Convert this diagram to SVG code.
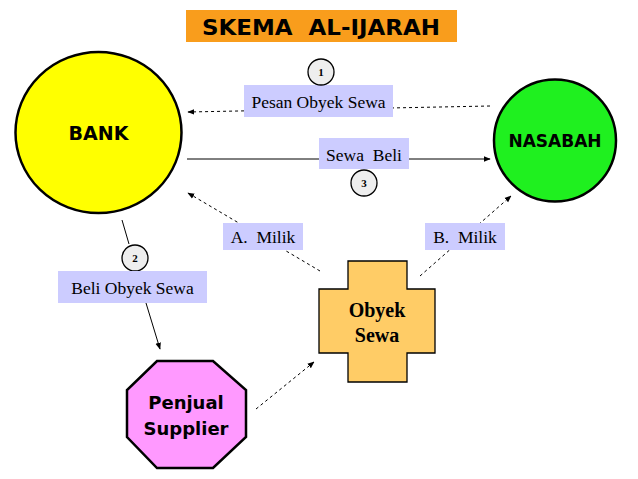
<svg xmlns="http://www.w3.org/2000/svg" width="638" height="479" viewBox="0 0 638 479">
<style>
.sans{font-family:"DejaVu Sans","Liberation Sans",sans-serif;font-weight:bold;fill:#000}
.serif{font-family:"Liberation Serif","Times New Roman",serif;fill:#000}
.lbl{fill:#ccccff}
.num{fill:#eeeeee;stroke:#000;stroke-width:1.3}
.numt{font-family:"Liberation Serif",serif;font-weight:bold;font-size:11px;text-anchor:middle}
.dash{stroke:#000;stroke-width:1;stroke-dasharray:3,3;fill:none}
.solid{stroke:#000;stroke-width:1;fill:none}
</style>
<defs>
<marker id="ah" viewBox="0 0 10 10" refX="9" refY="5" markerWidth="7" markerHeight="7" orient="auto" markerUnits="userSpaceOnUse">
<path d="M0,1 L10,5 L0,9 z" fill="#000"/>
</marker>
</defs>
<rect width="638" height="479" fill="#fff"/>
<g id="title">
<rect x="186" y="10" width="271" height="32" fill="#f99d1c"/>
<text class="sans" x="321" y="35" font-size="22" text-anchor="middle" textLength="238" lengthAdjust="spacingAndGlyphs" xml:space="preserve">SKEMA  AL-IJARAH</text>
</g>
<g id="connectors">
<line class="dash" x1="490" y1="106" x2="188" y2="112" marker-end="url(#ah)"/>
<line class="solid" x1="187" y1="159" x2="490" y2="159" marker-end="url(#ah)"/>
<line class="solid" x1="122" y1="220" x2="129" y2="244"/>
<line class="solid" x1="146" y1="303" x2="160" y2="349" marker-end="url(#ah)"/>
<line class="dash" x1="320" y1="271" x2="188" y2="193" marker-end="url(#ah)"/>
<line class="dash" x1="420" y1="276" x2="511" y2="196" marker-end="url(#ah)"/>
<line class="dash" x1="256" y1="409" x2="314" y2="362" marker-end="url(#ah)"/>
</g>
<g id="label-pesan">
<rect class="lbl" x="244" y="85" width="149" height="32"/>
<text class="serif" x="318.5" y="108" font-size="17.5" text-anchor="middle">Pesan Obyek Sewa</text>
</g>
<g id="num-1">
<circle class="num" cx="321" cy="72" r="13"/>
<text class="numt" x="321" y="76">1</text>
</g>
<g id="label-sewabeli">
<rect class="lbl" x="319" y="138" width="90" height="31"/>
<text class="serif" x="364" y="161" font-size="17.5" text-anchor="middle" xml:space="preserve">Sewa  Beli</text>
</g>
<g id="num-3">
<circle class="num" cx="364" cy="183" r="13"/>
<text class="numt" x="364" y="187">3</text>
</g>
<g id="num-2">
<circle class="num" cx="135" cy="258" r="13"/>
<text class="numt" x="135" y="262">2</text>
</g>
<g id="label-beli">
<rect class="lbl" x="58" y="271" width="149" height="32"/>
<text class="serif" x="132.5" y="294" font-size="17.5" text-anchor="middle">Beli Obyek Sewa</text>
</g>
<g id="label-amilik">
<rect class="lbl" x="223" y="223" width="80" height="27"/>
<text class="serif" x="263" y="243" font-size="17.5" text-anchor="middle" xml:space="preserve">A.  Milik</text>
</g>
<g id="label-bmilik">
<rect class="lbl" x="425" y="223" width="80" height="27"/>
<text class="serif" x="465" y="243" font-size="17.5" text-anchor="middle" xml:space="preserve">B.  Milik</text>
</g>
<g id="bank">
<ellipse cx="98.5" cy="132.5" rx="83" ry="80.5" fill="#ffff00" stroke="#000" stroke-width="2.5"/>
<text class="sans" x="98.5" y="140" font-size="19" text-anchor="middle">BANK</text>
</g>
<g id="nasabah">
<circle cx="555" cy="140.5" r="61" fill="#1ff01f" stroke="#000" stroke-width="2.5"/>
<text class="sans" x="555" y="147" font-size="17" text-anchor="middle">NASABAH</text>
</g>
<g id="obyek-sewa">
<path d="M348,261 H407 V289 H435 V353 H407 V382 H348 V353 H319 V289 H348 Z" fill="#ffcc66" stroke="#000" stroke-width="1.3"/>
<text class="serif" x="377" y="317" font-size="20" font-weight="bold" text-anchor="middle">Obyek</text>
<text class="serif" x="377" y="342" font-size="20" font-weight="bold" text-anchor="middle">Sewa</text>
</g>
<g id="penjual-supplier">
<path d="M157,361 H213 L246,390 V437 L213,468 H157 L127,437 V390 Z" fill="#ff99ff" stroke="#000" stroke-width="2.5"/>
<text class="sans" x="186" y="409" font-size="18" text-anchor="middle">Penjual</text>
<text class="sans" x="186" y="435" font-size="18" text-anchor="middle">Supplier</text>
</g>
</svg>
